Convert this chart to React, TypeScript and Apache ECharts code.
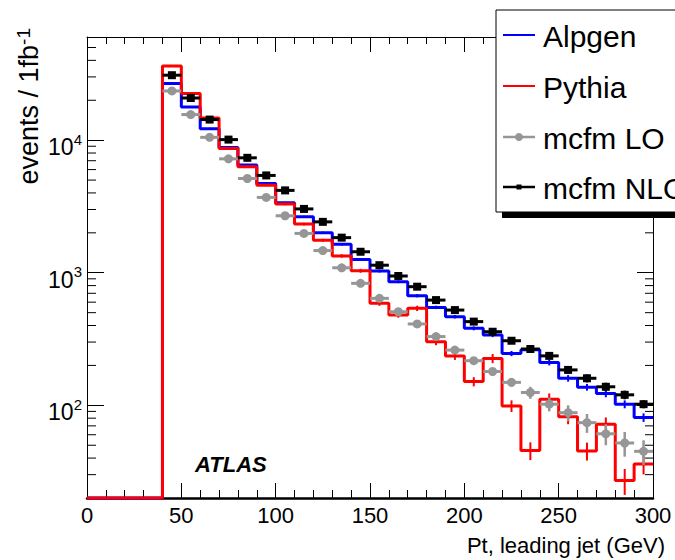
import React, { useEffect, useRef } from "react";
import * as echarts from "echarts";

// ---- data ----
const binEdges = [40, 50, 60, 70, 80, 90, 100, 110, 120, 130, 140, 150, 160, 170, 180, 190, 200, 210, 220, 230, 240, 250, 260, 270, 280, 290, 300];

const alpgen = [26700, 17800, 12200, 8810, 6490, 4720, 3370, 2640, 2000, 1640, 1260, 1030, 856, 671, 548, 466, 381, 339, 246, 262, 210, 160, 137, 123, 102, 81];
const alpgenErr = [400, 280, 200, 140, 110, 80, 60, 50, 40, 35, 30, 26, 22, 19, 16, 14, 13, 12, 11, 11, 10, 9, 8, 8, 7, 6];

const pythia = [36300, 22500, 14700, 8650, 6300, 4580, 3300, 2330, 1760, 1340, 1035, 588, 480, 539, 302, 236, 151, 226, 99, 45.6, 111, 82, 45.3, 72, 27.1, 36.1];
const pythiaErr = [500, 350, 250, 150, 120, 90, 70, 55, 45, 40, 35, 25, 22, 25, 18, 16, 12, 18, 10, 7, 12, 10, 7, 9, 6, 6];

const mcfmLO = [23500, 15600, 10500, 7230, 5140, 3700, 2690, 1980, 1470, 1090, 832, 641, 508, 411, 330, 261, 217, 180, 149, 125, 102, 88, 74, 61, 52, 45];
const mcfmLOErr = [300, 200, 140, 100, 75, 55, 40, 32, 26, 20, 17, 14, 12, 11, 10, 10, 10, 10, 11, 13, 12, 12, 12, 11, 11, 9.5];

const mcfmNLO = [30900, 20800, 14300, 10100, 7360, 5420, 4180, 3030, 2420, 1840, 1440, 1140, 945, 785, 622, 523, 428, 359, 307, 266, 236, 185, 160, 138, 120, 102];
const mcfmNLOErr = [600, 400, 280, 200, 150, 110, 90, 70, 55, 45, 38, 32, 28, 24, 21, 19, 17, 16, 15, 14, 13, 12, 11, 10, 9, 7];

const xRange = [0, 300];
const yRange = [20, 60000];
const yMinorTicks = [30, 40, 50, 60, 70, 80, 90, 200, 300, 400, 500, 600, 700, 800, 900, 2000, 3000, 4000, 5000, 6000, 7000, 8000, 9000, 20000, 30000, 40000, 50000];

const legendNames = ["Alpgen", "Pythia", "mcfm LO", "mcfm NLO"];
const xTitle = "Pt, leading jet (GeV)";
const yTitle = "events / 1fb";
const yTitleSup = "-1";
const tag = "ATLAS";

// ---- styles ----
const FONT = "Liberation Sans, Arial, sans-serif";
const BLUE = "#0000ff";
const RED = "#ff0000";
const GRAY = "#969696";
const BLACK = "#000000";

function stepData(vals: number[]) {
  const pts: number[][] = [[xRange[0], yRange[0]], [binEdges[0], yRange[0]]];
  vals.forEach((v, i) => pts.push([binEdges[i], v]));
  pts.push([binEdges[binEdges.length - 1], vals[vals.length - 1]]);
  return pts;
}

function pointData(vals: number[], errs: number[]) {
  return vals.map((v, i) => [
    (binEdges[i] + binEdges[i + 1]) / 2,
    v,
    errs[i],
    binEdges[i],
    binEdges[i + 1],
  ]);
}

function histErrSeries(vals: number[], errs: number[], color: string, z: number) {
  return {
    type: "custom",
    xAxisIndex: 0,
    yAxisIndex: 0,
    z,
    silent: true,
    data: pointData(vals, errs),
    encode: { x: 0, y: 1 },
    renderItem: (params: any, api: any) => {
      const c = api.value(0), v = api.value(1), e = api.value(2);
      const a = api.coord([c, Math.max(v - e, 1e-3)]);
      const b = api.coord([c, v + e]);
      return {
        type: "line",
        shape: { x1: a[0], y1: a[1], x2: b[0], y2: b[1] },
        style: { stroke: color, lineWidth: 2 },
      };
    },
  };
}

function pointSeries(vals: number[], errs: number[], color: string, marker: "circle" | "square", z: number) {
  return {
    type: "custom",
    xAxisIndex: 0,
    yAxisIndex: 0,
    z,
    silent: true,
    data: pointData(vals, errs),
    encode: { x: 0, y: 1 },
    renderItem: (params: any, api: any) => {
      const c = api.value(0), v = api.value(1), e = api.value(2), lo = api.value(3), hi = api.value(4);
      const pc = api.coord([c, v]);
      const pl = api.coord([lo, v]);
      const ph = api.coord([hi, v]);
      const pa = api.coord([c, Math.max(v - e, 1e-3)]);
      const pb = api.coord([c, v + e]);
      const children: any[] = [
        { type: "line", shape: { x1: pl[0], y1: pl[1], x2: ph[0], y2: ph[1] }, style: { stroke: color, lineWidth: 3 } },
        { type: "line", shape: { x1: pa[0], y1: pa[1], x2: pb[0], y2: pb[1] }, style: { stroke: color, lineWidth: 2.5 } },
      ];
      if (marker === "circle") {
        children.push({ type: "circle", shape: { cx: pc[0], cy: pc[1], r: 4.5 }, style: { fill: color } });
      } else {
        children.push({ type: "rect", shape: { x: pc[0] - 4, y: pc[1] - 4, width: 8, height: 8 }, style: { fill: color } });
      }
      return { type: "group", children };
    },
  };
}

export default function App() {
  const ref = useRef<HTMLDivElement>(null);

  useEffect(() => {
    if (!ref.current) return;
    const chart = echarts.init(ref.current, null, { renderer: "svg" });

    const lineAxis = { lineStyle: { color: BLACK, width: 1 } };

    const legendY = [35, 86, 137, 187];
    const legendColors = [BLUE, RED, GRAY, BLACK];
    const legendGraphics: any[] = [
      { type: "rect", shape: { x: 502, y: 16, width: 220, height: 202 }, style: { fill: BLACK }, z: 100 },
      { type: "rect", shape: { x: 496, y: 10, width: 220, height: 202 }, style: { fill: "#fff", stroke: BLACK, lineWidth: 1 }, z: 101 },
    ];
    legendNames.forEach((name, i) => {
      const y = legendY[i];
      legendGraphics.push({
        type: "line",
        shape: { x1: 503, y1: y, x2: 535, y2: y },
        style: { stroke: legendColors[i], lineWidth: i < 2 ? 2 : 2.5 },
        z: 102,
      });
      if (i === 2) {
        legendGraphics.push({ type: "circle", shape: { cx: 519, cy: y, r: 4 }, style: { fill: GRAY }, z: 102 });
      }
      if (i === 3) {
        legendGraphics.push({ type: "rect", shape: { x: 516.5, y: y - 2.5, width: 5, height: 5 }, style: { fill: BLACK }, z: 102 });
      }
      legendGraphics.push({
        type: "text",
        x: 543,
        y: y + 1,
        z: 102,
        style: { text: name, font: `30px ${FONT}`, fill: BLACK, align: "left", verticalAlign: "middle" },
      });
    });

    const option: any = {
      animation: false,
      backgroundColor: "#ffffff",
      grid: { left: 87, right: 22, top: 37, bottom: 62, containLabel: false },
      xAxis: [
        {
          type: "value",
          position: "bottom",
          min: xRange[0],
          max: xRange[1],
          interval: 50,
          axisLine: { show: true, onZero: false, lineStyle: { color: BLACK, width: 2.5 } },
          axisTick: { show: true, inside: true, length: 15, lineStyle: { color: BLACK, width: 1 } },
          minorTick: { show: true, splitNumber: 5, length: 8, lineStyle: { color: BLACK, width: 1 } },
          axisLabel: { color: BLACK, fontSize: 22, fontFamily: FONT, margin: 6 },
          splitLine: { show: false },
        },
        {
          type: "value",
          position: "top",
          min: xRange[0],
          max: xRange[1],
          interval: 50,
          axisLine: { show: true, onZero: false, ...lineAxis },
          axisTick: { show: true, inside: true, length: 15, lineStyle: { color: BLACK, width: 1 } },
          minorTick: { show: true, splitNumber: 5, length: 7, lineStyle: { color: BLACK, width: 1 } },
          axisLabel: { show: false },
          splitLine: { show: false },
        },
      ],
      yAxis: [
        {
          type: "log",
          logBase: 10,
          position: "left",
          min: yRange[0],
          max: yRange[1],
          axisLine: { show: true, onZero: false, ...lineAxis },
          axisTick: { show: true, inside: true, length: 17, lineStyle: { color: BLACK, width: 1 } },
          axisLabel: {
            showMinLabel: false,
            showMaxLabel: false,
            margin: 5,
            formatter: (v: number) => {
              const e = Math.round(Math.log10(v));
              if (Math.abs(Math.pow(10, e) - v) > 1e-6 * v) return "";
              return `{b|10}{s|${e}}`;
            },
            rich: {
              b: { fontSize: 23, lineHeight: 23, fontFamily: FONT, color: BLACK, padding: [14, 0, 0, 0] },
              s: { fontSize: 15, lineHeight: 15, fontFamily: FONT, color: BLACK, padding: [0, 0, 2, 0] },
            },
          },
          splitLine: { show: false },
        },
        {
          type: "log",
          logBase: 10,
          position: "right",
          min: yRange[0],
          max: yRange[1],
          axisLine: { show: true, onZero: false, ...lineAxis },
          axisTick: { show: true, inside: true, length: 16, lineStyle: { color: BLACK, width: 1 } },
          axisLabel: { show: false },
          splitLine: { show: false },
        },
      ],
      series: [
        {
          type: "custom",
          xAxisIndex: 0,
          yAxisIndex: 0,
          silent: true,
          z: 1,
          data: yMinorTicks.map((v) => [xRange[0], v]),
          encode: { x: 0, y: 1 },
          renderItem: (params: any, api: any) => {
            const v = api.value(1);
            const pl = api.coord([xRange[0], v]);
            const pr = api.coord([xRange[1], v]);
            return {
              type: "group",
              children: [
                { type: "line", shape: { x1: pl[0], y1: pl[1], x2: pl[0] + 9, y2: pl[1] }, style: { stroke: BLACK, lineWidth: 1 } },
                { type: "line", shape: { x1: pr[0] - 8, y1: pr[1], x2: pr[0], y2: pr[1] }, style: { stroke: BLACK, lineWidth: 1 } },
              ],
            };
          },
        },
        {
          name: legendNames[0],
          type: "line",
          xAxisIndex: 0,
          yAxisIndex: 0,
          step: "end",
          showSymbol: false,
          clip: false,
          z: 2,
          data: stepData(alpgen),
          lineStyle: { color: BLUE, width: 3 },
        },
        histErrSeries(alpgen, alpgenErr, BLUE, 2),
        {
          name: legendNames[1],
          type: "line",
          xAxisIndex: 0,
          yAxisIndex: 0,
          step: "end",
          showSymbol: false,
          clip: false,
          z: 3,
          data: stepData(pythia),
          lineStyle: { color: RED, width: 3 },
        },
        histErrSeries(pythia, pythiaErr, RED, 3),
        pointSeries(mcfmLO, mcfmLOErr, GRAY, "circle", 4),
        pointSeries(mcfmNLO, mcfmNLOErr, BLACK, "square", 5),
      ],
      graphic: [
        {
          type: "text",
          x: 195,
          y: 464,
          z: 50,
          style: { text: tag, font: `italic bold 22px ${FONT}`, fill: BLACK, align: "left", verticalAlign: "middle" },
        },
        {
          type: "text",
          x: 665,
          y: 545,
          z: 50,
          style: { text: xTitle, font: `22px ${FONT}`, fill: BLACK, align: "right", verticalAlign: "middle" },
        },
        {
          type: "text",
          x: 26,
          y: 28,
          rotation: Math.PI / 2,
          z: 50,
          style: {
            text: `{a|${yTitle}}{s|${yTitleSup}}`,
            align: "right",
            verticalAlign: "middle",
            rich: {
              a: { fontSize: 27, lineHeight: 27, fontFamily: FONT, fill: BLACK, padding: [6, 0, 0, 0] },
              s: { fontSize: 19, lineHeight: 19, fontFamily: FONT, fill: BLACK, padding: [0, 0, 6, 0] },
            },
          },
        },
        ...legendGraphics,
      ],
    };

    chart.setOption(option);
    return () => chart.dispose();
  }, []);

  return (
    <div
      ref={ref}
      style={{ position: "fixed", left: 0, top: 0, width: 675, height: 560, background: "#fff" }}
    />
  );
}
